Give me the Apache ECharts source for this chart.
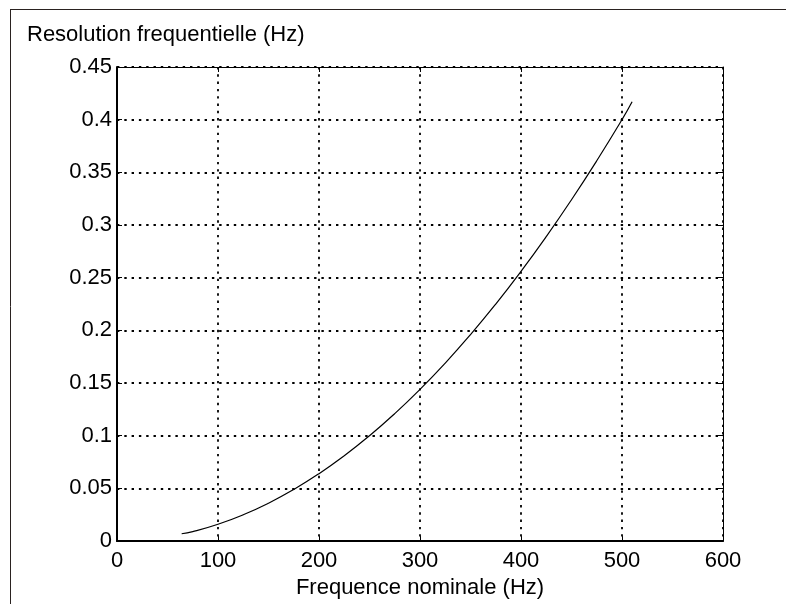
<!DOCTYPE html>
<html>
<head>
<meta charset="utf-8">
<script src="https://cdn.jsdelivr.net/npm/echarts@6/dist/echarts.min.js"></script>
<style>
  html, body { margin: 0; padding: 0; background: #fff; }
  #chart { width: 786px; height: 604px; }
</style>
</head>
<body>
<div id="chart"></div>
<script>
// frequence nominale (Hz) et resolution
var frequences = [64, 75, 100, 125, 150, 175, 200, 225, 250, 275, 300, 325, 350, 375, 400, 425, 450, 475, 500, 510];
var resolutions = [0.007, 0.009, 0.016, 0.025, 0.036, 0.049, 0.064, 0.081, 0.100, 0.121, 0.144, 0.169, 0.196, 0.225, 0.256, 0.289, 0.324, 0.361, 0.400, 0.417];

var titreY = 'Resolution frequentielle (Hz)';
var titreX = 'Frequence nominale (Hz)';

var police = 'Liberation Sans, Arial, Helvetica, sans-serif';

var chart = echarts.init(document.getElementById('chart'));

var pointilles = {
    show: true,
    lineStyle: { color: '#000', width: 1.8, type: [2.4, 4.9] }
};

var option = {
    animation: false,
    backgroundColor: '#fff',
    title: {
        text: titreY,
        left: 27,
        top: 24,
        padding: 0,
        textStyle: { fontFamily: police, fontSize: 22, fontWeight: 'normal', color: '#000' }
    },
    grid: { left: 117, right: 63, top: 67, bottom: 60, containLabel: false },
    xAxis: [
        {
            type: 'value',
            position: 'bottom',
            min: 0, max: 600, interval: 100,
            name: titreX,
            nameLocation: 'middle',
            nameGap: 35,
            nameTextStyle: { fontFamily: police, fontSize: 22, color: '#000' },
            axisLine: { show: true, onZero: false, lineStyle: { color: '#000', width: 2 } },
            axisTick: { show: true, inside: true, length: 5, lineStyle: { color: '#000' } },
            axisLabel: { margin: 9, fontFamily: police, fontSize: 22, color: '#000' },
            splitLine: pointilles
        },
        {
            type: 'value',
            position: 'top',
            min: 0, max: 600, interval: 100,
            axisLine: { show: true, onZero: false, lineStyle: { color: '#000', width: 1 } },
            axisTick: { show: true, inside: true, length: 5, lineStyle: { color: '#000' } },
            axisLabel: { show: false },
            splitLine: { show: false }
        }
    ],
    yAxis: [
        {
            type: 'value',
            position: 'left',
            min: 0, max: 0.45, interval: 0.05,
            axisLine: { show: true, onZero: false, lineStyle: { color: '#000', width: 2 } },
            axisTick: { show: true, inside: true, length: 5, lineStyle: { color: '#000' } },
            axisLabel: { margin: 5, fontFamily: police, fontSize: 22, color: '#000' },
            splitLine: pointilles
        },
        {
            type: 'value',
            position: 'right',
            min: 0, max: 0.45, interval: 0.05,
            axisLine: { show: true, onZero: false, lineStyle: { color: '#000', width: 1 } },
            axisTick: { show: true, inside: true, length: 5, lineStyle: { color: '#000' } },
            axisLabel: { show: false },
            splitLine: { show: false }
        }
    ],
    graphic: [
        // cadre exterieur de la figure
        { type: 'line', shape: { x1: 10, y1: 9.5, x2: 786, y2: 9.5 }, style: { stroke: '#2a2220', lineWidth: 1 } },
        { type: 'line', shape: { x1: 10.5, y1: 9, x2: 10.5, y2: 604 }, style: { stroke: '#2a2220', lineWidth: 1 } }
    ],
    series: [
        {
            type: 'line',
            xAxisIndex: 0,
            yAxisIndex: 0,
            data: frequences.map(function (f, i) { return [f, resolutions[i]]; }),
            smooth: true,
            showSymbol: false,
            lineStyle: { color: '#000', width: 1.2 }
        }
    ]
};

chart.setOption(option);
</script>
</body>
</html>
